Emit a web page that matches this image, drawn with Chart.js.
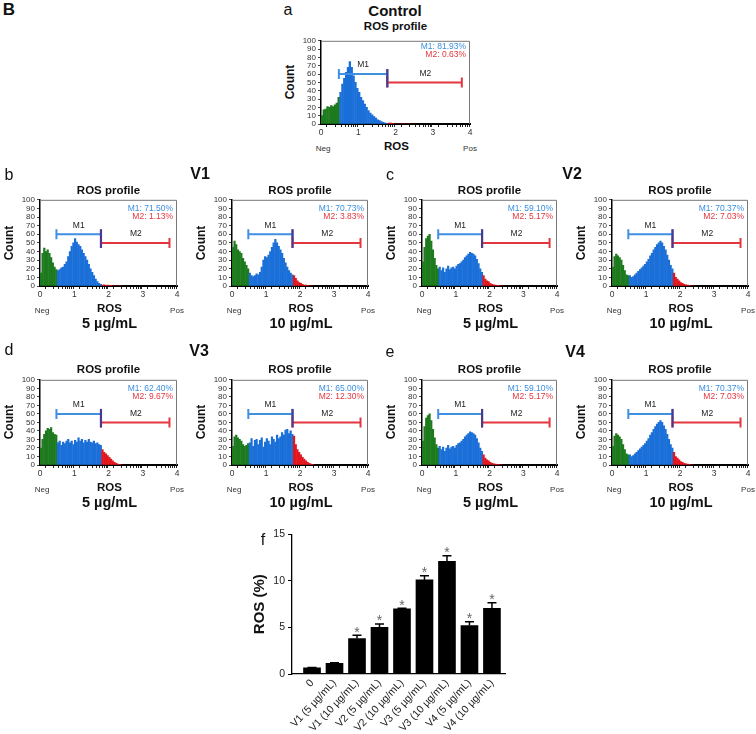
<!DOCTYPE html>
<html>
<head>
<meta charset="utf-8">
<script src="https://cdn.jsdelivr.net/npm/chart.js@4.4.0/dist/chart.umd.min.js"></script>
<style>
  body { margin: 0; background: #fff; }
  #page { position: relative; width: 756px; height: 734px; overflow: hidden; font-family: "Liberation Sans", Arial, sans-serif; color: #111; }
  #page canvas { position: absolute; }
  .t { position: absolute; white-space: nowrap; line-height: 1; transform: translate(-50%, -50%); }
</style>
</head>
<body>
<div id="page"></div>
<script>
// ROS axis bins (centre of each 0.05 wide bin)
const binCenters = [
  0.025, 0.075, 0.125, 0.175, 0.225, 0.275, 0.325, 0.375, 0.425, 0.475,
  0.525, 0.575, 0.625, 0.675, 0.725, 0.775, 0.825, 0.875, 0.925, 0.975,
  1.025, 1.075, 1.125, 1.175, 1.225, 1.275, 1.325, 1.375, 1.425, 1.475,
  1.525, 1.575, 1.625, 1.675, 1.725, 1.775, 1.825, 1.875, 1.925, 1.975,
  2.025, 2.075, 2.125, 2.175, 2.225, 2.275, 2.325, 2.375
];

// counts per bin
const controlCounts = [10, 17, 18, 21, 20, 22, 21, 23, 25, 32,
  38, 48, 55, 62, 68, 75, 68, 58, 50, 43, 38, 32, 28, 24, 20, 16, 13, 11, 9, 7, 5, 4, 3, 2, 1, 0.5,
  1, 1, 0.5, 0, 0, 0, 0, 0, 0, 0, 0, 0];
const v1LowCounts = [15, 38, 44, 40, 42, 38, 33, 27, 22, 19,
  18, 19, 21, 22, 25, 28, 34, 40, 46, 50, 55, 51, 48, 46, 42, 38, 34, 30, 25, 20, 16, 12, 8, 5, 3, 2,
  1, 1.5, 0.5, 1, 0.5, 0.5, 0, 0, 0, 0, 0, 0];
const v1HighCounts = [45, 52, 48, 42, 40, 38, 32, 28, 24, 20,
  15, 12, 11, 12, 14, 13, 16, 22, 30, 34, 33, 36, 40, 45, 50, 54, 50, 46, 42, 38, 32, 27, 22, 18, 15, 13,
  12, 9, 6, 4, 3, 2, 1, 1, 0.5, 0, 0, 0];
const v2LowCounts = [28, 45, 55, 58, 60, 52, 42, 32, 24, 20,
  22, 18, 21, 16, 20, 23, 19, 21, 22, 20, 23, 25, 26, 28, 30, 33, 35, 37, 39, 38, 37, 35, 31, 26, 20, 16,
  12, 8, 6, 5, 3, 2, 1.5, 1, 0.5, 0.5, 0, 0];
const v2HighCounts = [22, 34, 37, 35, 33, 30, 24, 18, 13, 12,
  12, 10, 11, 13, 15, 17, 19, 21, 23, 25, 28, 31, 35, 38, 42, 45, 48, 50, 52, 50, 46, 42, 36, 30, 24, 20,
  15, 10, 8, 6, 4, 3, 2, 1.5, 1, 0.5, 0, 0];
const v3LowCounts = [20, 30, 36, 40, 43, 42, 44, 38, 36, 35,
  26, 28, 23, 27, 25, 28, 30, 26, 28, 24, 29, 27, 32, 28, 30, 26, 29, 27, 30, 27, 26, 28, 25, 26, 24, 23,
  18, 15, 13, 11, 9, 7, 5, 3, 2, 1, 0.5, 0];
const v3HighCounts = [22, 33, 35, 32, 30, 28, 24, 22, 23, 25,
  26, 31, 22, 29, 30, 24, 29, 32, 21, 27, 31, 28, 24, 33, 30, 27, 35, 31, 33, 38, 35, 41, 42, 37, 40, 36,
  34, 24, 18, 15, 12, 9, 7, 5, 3, 2, 1, 0.5];
// the V4 panels in the figure are the same plots as V2
const v4LowCounts = v2LowCounts;
const v4HighCounts = v2HighCounts;

// gates
const m1Gate = [0.48, 1.78];
const m2Gate = [1.78, 3.78];
const m1Level = 60;
const m2Level = 50;
const countTicks = [0, 10, 20, 30, 40, 50, 60, 70, 80, 90, 100];
const rosTickLabels = ['0', '1', '2', '3', '4'];

// panel f
const groups = ['0', 'V1 (5 µg/mL)', 'V1 (10 µg/mL)', 'V2 (5 µg/mL)', 'V2 (10 µg/mL)',
  'V3 (5 µg/mL)', 'V3 (10 µg/mL)', 'V4 (5 µg/mL)', 'V4 (10 µg/mL)'];
const rosMean = [0.65, 1.15, 3.8, 5.0, 7.0, 10.1, 12.1, 5.2, 7.05];
const rosErr = [0.05, 0.05, 0.35, 0.38, 0.05, 0.45, 0.6, 0.4, 0.6];
const significant = [false, false, true, true, true, true, true, true, true];
const rosPctTicks = [0, 5, 10, 15];

Chart.defaults.font.family = '"Liberation Sans", Arial, sans-serif';
Chart.defaults.color = '#222';

const page = document.getElementById('page');

function addCanvas(left, top, w, h) {
  const c = document.createElement('canvas');
  c.width = w; c.height = h;
  c.style.left = left + 'px'; c.style.top = top + 'px';
  c.style.width = w + 'px'; c.style.height = h + 'px';
  page.appendChild(c);
  return c;
}

function addText(txt, x, y, css, rot) {
  const d = document.createElement('div');
  d.className = 't';
  d.textContent = txt;
  d.style.cssText += css;
  d.style.left = x + 'px'; d.style.top = y + 'px';
  if (rot) d.style.transform = 'translate(-50%, -50%) rotate(-90deg)';
  page.appendChild(d);
}

const GREEN = '#1d7a1d', BLUE = '#1b6fd8', RED = '#e3161e';

function binColor(x) {
  if (x < m1Gate[0]) return GREEN;
  if (x < m2Gate[0]) return BLUE;
  return RED;
}

function drawGate(ctx, xs, ys, gate, level, color) {
  const x0 = xs.getPixelForValue(gate[0]);
  const x1 = xs.getPixelForValue(gate[1]);
  const py = ys.getPixelForValue(level);
  ctx.strokeStyle = color;
  ctx.lineWidth = 2;
  ctx.beginPath();
  ctx.moveTo(x0, py); ctx.lineTo(x1, py);
  ctx.moveTo(x0, py - 5); ctx.lineTo(x0, py + 5);
  ctx.moveTo(x1, py - 5); ctx.lineTo(x1, py + 5);
  ctx.stroke();
}

const gatePlugin = {
  id: 'gates',
  afterDatasetsDraw(chart, args, opts) {
    const { ctx, chartArea: a, scales: { x, y } } = chart;
    ctx.save();
    // frame (top and right)
    ctx.strokeStyle = '#777';
    ctx.lineWidth = 1;
    ctx.beginPath();
    ctx.moveTo(a.left, a.top + 0.5); ctx.lineTo(a.right - 0.5, a.top + 0.5); ctx.lineTo(a.right - 0.5, a.bottom);
    ctx.stroke();

    drawGate(ctx, x, y, m1Gate, m1Level, '#3f8fe2');
    drawGate(ctx, x, y, m2Gate, m2Level, '#e4363e');
    // joint of the two gates
    const jx = x.getPixelForValue(m2Gate[0]);
    ctx.strokeStyle = '#4b3a8c';
    ctx.lineWidth = 2.2;
    ctx.beginPath();
    ctx.moveTo(jx, y.getPixelForValue(m1Level) - 5); ctx.lineTo(jx, y.getPixelForValue(m2Level) + 5);
    ctx.stroke();

    ctx.font = '8.5px "Liberation Sans", Arial, sans-serif';
    ctx.fillStyle = '#222';
    ctx.textAlign = 'center';
    ctx.textBaseline = 'middle';
    ctx.fillText('M1', x.getPixelForValue((m1Gate[0] + m1Gate[1]) / 2), y.getPixelForValue(m1Level) - 9);
    ctx.fillText('M2', x.getPixelForValue(2.8), y.getPixelForValue(m2Level) - 9);

    ctx.textAlign = 'right';
    ctx.fillStyle = '#3a8ee0';
    ctx.fillText('M1: ' + opts.m1, a.right - 4, a.top + opts.textTop);
    ctx.fillStyle = '#e4363e';
    ctx.fillText('M2: ' + opts.m2, a.right - 4, a.top + opts.textTop + 8.5);
    ctx.restore();
  }
};

function histogram(p) {
  const w = p.R - p.L, h = p.B - p.T;
  const canvas = addCanvas(p.L - 24, p.T - 6, w + 30, h + 20);
  new Chart(canvas, {
    type: 'bar',
    data: {
      datasets: [{
        data: binCenters.map((x, i) => ({ x: x, y: p.counts[i] })),
        backgroundColor: ctx => binColor(binCenters[ctx.dataIndex]),
        borderWidth: 0,
        barPercentage: 1,
        categoryPercentage: 1
      }]
    },
    options: {
      responsive: false,
      animation: false,
      devicePixelRatio: 1,
      layout: { padding: { top: 6, right: 6, left: 0, bottom: 0 } },
      plugins: {
        legend: { display: false },
        tooltip: { enabled: false },
        gates: { m1: p.m1, m2: p.m2, textTop: p.textTop }
      },
      scales: {
        x: {
          type: 'linear',
          offset: false,
          min: 0, max: 4,
          afterFit: s => { s.height = 14; s.paddingLeft = 0; s.paddingRight = 0; },
          afterBuildTicks: s => {
            const t = [];
            rosTickLabels.forEach((lab, d) => {
              if (d < 4) {
                for (let k = 1; k < 10; k++) t.push({ value: d + Math.log10(k) });
              } else {
                t.push({ value: d });
              }
            });
            s.ticks = t;
          },
          ticks: {
            autoSkip: false, maxRotation: 0, padding: 1,
            font: { size: 8.5 }, color: '#333',
            callback: v => Number.isInteger(v) ? rosTickLabels[v] : ''
          },
          grid: { drawOnChartArea: false, tickLength: 3, tickColor: '#222', lineWidth: 1 },
          border: { color: '#000', width: 2 }
        },
        y: {
          min: 0, max: 100,
          afterFit: s => { s.width = 24; },
          afterBuildTicks: s => { s.ticks = countTicks.map(v => ({ value: v })); },
          ticks: { autoSkip: false, font: { size: 8 }, color: '#333', padding: 2 },
          grid: { drawOnChartArea: false, tickLength: 3, tickColor: '#444' },
          border: { color: '#000', width: 1.5 }
        }
      }
    },
    plugins: [gatePlugin]
  });

  const cx = (p.L + p.R) / 2;
  addText('ROS profile', cx, p.titleY, 'font-size:11.5px;font-weight:bold;');
  addText('Count', p.L - 31, (p.T + p.B) / 2, 'font-size:12px;font-weight:bold;', true);
  addText('Neg', p.L + 2, p.B + 25, 'font-size:8px;color:#333;');
  addText('ROS', cx + 1, p.B + 23, 'font-size:11.5px;font-weight:bold;');
  addText('Pos', p.R, p.B + 25, 'font-size:8px;color:#333;');
  if (p.conc) addText(p.conc, cx + 1, p.B + 37, 'font-size:14.5px;font-weight:bold;');
}

const panels = [
  { counts: controlCounts, m1: '81.93%', m2: '0.63%', L: 321, R: 470, T: 40, B: 124, titleY: 27, textTop: 5.5, conc: null },
  { counts: v1LowCounts, m1: '71.50%', m2: '1.13%', L: 40, R: 177, T: 199, B: 286, titleY: 190.5, textTop: 8.5, conc: '5 µg/mL' },
  { counts: v1HighCounts, m1: '70.73%', m2: '3.83%', L: 232, R: 368, T: 199, B: 286, titleY: 190.5, textTop: 8.5, conc: '10 µg/mL' },
  { counts: v2LowCounts, m1: '59.10%', m2: '5.17%', L: 422, R: 557, T: 199, B: 286, titleY: 190.5, textTop: 8.5, conc: '5 µg/mL' },
  { counts: v2HighCounts, m1: '70.37%', m2: '7.03%', L: 612, R: 748, T: 199, B: 286, titleY: 190.5, textTop: 8.5, conc: '10 µg/mL' },
  { counts: v3LowCounts, m1: '62.40%', m2: '9.67%', L: 40, R: 177, T: 379, B: 465, titleY: 370, textTop: 8.5, conc: '5 µg/mL' },
  { counts: v3HighCounts, m1: '65.00%', m2: '12.30%', L: 232, R: 368, T: 379, B: 465, titleY: 370, textTop: 8.5, conc: '10 µg/mL' },
  { counts: v4LowCounts, m1: '59.10%', m2: '5.17%', L: 422, R: 557, T: 379, B: 465, titleY: 370, textTop: 8.5, conc: '5 µg/mL' },
  { counts: v4HighCounts, m1: '70.37%', m2: '7.03%', L: 612, R: 748, T: 379, B: 465, titleY: 370, textTop: 8.5, conc: '10 µg/mL' }
];
panels.forEach(histogram);

// panel letters and group headings
addText('B', 9, 9, 'font-size:17px;font-weight:bold;');
addText('a', 288, 10, 'font-size:16px;');
addText('Control', 395, 10, 'font-size:15px;font-weight:bold;');
addText('b', 9, 175, 'font-size:16px;');
addText('V1', 200, 174, 'font-size:16px;font-weight:bold;');
addText('c', 390, 175, 'font-size:16px;');
addText('V2', 572, 174, 'font-size:16px;font-weight:bold;');
addText('d', 9, 350, 'font-size:16px;');
addText('V3', 199, 351, 'font-size:16px;font-weight:bold;');
addText('e', 390, 352, 'font-size:16px;');
addText('V4', 575, 352, 'font-size:16px;font-weight:bold;');
addText('f', 263, 540, 'font-size:16px;');

// ---- panel f: ROS (%) bar chart ----
const errorBars = {
  id: 'errorBars',
  afterDatasetsDraw(chart) {
    const { ctx, scales: { x, y } } = chart;
    ctx.save();
    ctx.strokeStyle = '#000';
    ctx.lineWidth = 1.5;
    ctx.font = '14px "Liberation Sans", Arial, sans-serif';
    ctx.textAlign = 'center';
    ctx.textBaseline = 'alphabetic';
    ctx.fillStyle = '#666';
    rosMean.forEach((m, i) => {
      const px = x.getPixelForValue(i);
      const top = y.getPixelForValue(m + rosErr[i]);
      ctx.beginPath();
      ctx.moveTo(px, y.getPixelForValue(m)); ctx.lineTo(px, top);
      ctx.moveTo(px - 4.5, top); ctx.lineTo(px + 4.5, top);
      ctx.stroke();
      if (significant[i]) ctx.fillText('*', px, top + 1.5);
    });
    ctx.restore();
  }
};

const barCanvas = addCanvas(248, 525, 264, 209);
new Chart(barCanvas, {
  type: 'bar',
  data: {
    datasets: [{
      data: rosMean.map((v, i) => ({ x: i, y: v })),
      backgroundColor: '#000',
      borderWidth: 0,
      barThickness: 17
    }]
  },
  options: {
    responsive: false,
    animation: false,
    devicePixelRatio: 1,
    layout: { padding: { top: 9, right: 7, left: 0, bottom: 0 } },
    plugins: { legend: { display: false }, tooltip: { enabled: false } },
    scales: {
      x: {
        type: 'linear',
        offset: false,
        min: -0.89, max: 8.58,
        afterFit: s => { s.height = 60; s.paddingLeft = 0; s.paddingRight = 0; },
        afterBuildTicks: s => { s.ticks = groups.map((g, i) => ({ value: i })); },
        ticks: {
          autoSkip: false, minRotation: 47, maxRotation: 47, padding: 0,
          font: { size: 10.5 }, color: '#222',
          callback: v => groups[v]
        },
        grid: { drawOnChartArea: false, tickLength: 3, tickColor: 'rgba(0,0,0,0)' },
        border: { color: '#000', width: 1.3 }
      },
      y: {
        min: 0, max: 15,
        afterFit: s => { s.width = 44; },
        afterBuildTicks: s => { s.ticks = rosPctTicks.map(v => ({ value: v })); },
        title: { display: true, text: 'ROS (%)', font: { size: 15, weight: 'bold' }, color: '#111', padding: { top: 3, bottom: 0 } },
        ticks: { autoSkip: false, font: { size: 10.5 }, color: '#222', padding: 3 },
        grid: { drawOnChartArea: false, tickLength: 4, tickColor: '#000' },
        border: { color: '#000', width: 1.3 }
      }
    }
  },
  plugins: [errorBars]
});
</script>
</body>
</html>
